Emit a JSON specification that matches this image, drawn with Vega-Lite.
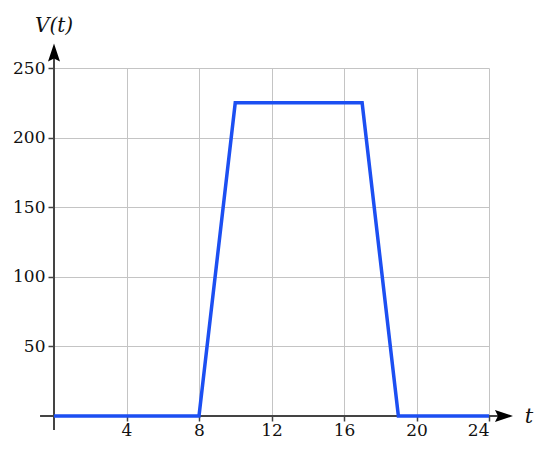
{
  "$schema": "https://vega.github.io/schema/vega-lite/v6.json",
  "width": 435,
  "height": 348,
  "autosize": {"type": "none"},
  "padding": {"left": 54, "top": 68, "right": 61, "bottom": 41},
  "background": "white",
  "config": {"view": {"stroke": null}},
  "data": {"values": [{}]},
  "datasets": {
    "curve": [
      {"t": 0, "V": 0},
      {"t": 8, "V": 0},
      {"t": 10, "V": 225},
      {"t": 17, "V": 225},
      {"t": 19, "V": 0},
      {"t": 24, "V": 0}
    ]
  },
  "layer": [
    {
      "data": {"name": "curve"},
      "mark": {"type": "line", "opacity": 0},
      "encoding": {
        "x": {
          "field": "t", "type": "quantitative",
          "scale": {"domain": [0, 24], "nice": false, "zero": false},
          "axis": {
            "values": [4, 8, 12, 16, 20, 24],
            "grid": true, "gridColor": "#c4c4c4", "gridWidth": 1,
            "domain": false, "ticks": true, "tickSize": 5, "tickColor": "#444", "tickWidth": 1.5,
            "labelFont": "DejaVu Serif", "labelFontSize": 17, "labelColor": "#111",
            "labelPadding": 1, "title": null
          }
        },
        "y": {
          "field": "V", "type": "quantitative",
          "scale": {"domain": [0, 250], "nice": false, "zero": false},
          "axis": {
            "values": [50, 100, 150, 200, 250],
            "grid": true, "gridColor": "#c4c4c4", "gridWidth": 1,
            "domain": false, "ticks": true, "tickSize": 6, "tickColor": "#444", "tickWidth": 1.5,
            "labelFont": "DejaVu Serif", "labelFontSize": 17, "labelColor": "#111",
            "labelPadding": 3, "title": null
          }
        }
      }
    },
    {
      "mark": {"type": "rule", "color": "#444", "strokeWidth": 2},
      "encoding": {"x": {"datum": -0.77}, "x2": {"datum": 24.7}, "y": {"datum": 0}}
    },
    {
      "mark": {"type": "rule", "color": "#444", "strokeWidth": 2},
      "encoding": {"x": {"datum": 0}, "y": {"datum": -10}, "y2": {"datum": 259}}
    },
    {
      "mark": {"type": "point", "shape": "M1.2,0L-0.6,0.6L-0.3,0L-0.6,-0.6Z", "filled": true, "color": "#000", "size": 400, "opacity": 1, "strokeWidth": 0},
      "encoding": {"x": {"datum": 24.66}, "y": {"datum": 0}}
    },
    {
      "mark": {"type": "point", "shape": "M0,-1.2L0.6,0.6L0,0.3L-0.6,0.6Z", "filled": true, "color": "#000", "size": 400, "opacity": 1, "strokeWidth": 0},
      "encoding": {"x": {"datum": 0}, "y": {"datum": 259}}
    },
    {
      "data": {"name": "curve"},
      "mark": {"type": "line", "color": "#1c4ff2", "strokeWidth": 3.5, "strokeJoin": "miter"},
      "encoding": {
        "x": {"field": "t", "type": "quantitative"},
        "y": {"field": "V", "type": "quantitative"}
      }
    },
    {
      "mark": {"type": "text", "text": "V(t)", "font": "DejaVu Serif", "fontStyle": "italic", "fontSize": 20, "color": "#111"},
      "encoding": {"x": {"datum": 0}, "y": {"datum": 280}}
    },
    {
      "mark": {"type": "text", "text": "t", "font": "DejaVu Serif", "fontStyle": "italic", "fontSize": 21, "color": "#111"},
      "encoding": {"x": {"datum": 26.2}, "y": {"datum": -1}}
    }
  ]
}
